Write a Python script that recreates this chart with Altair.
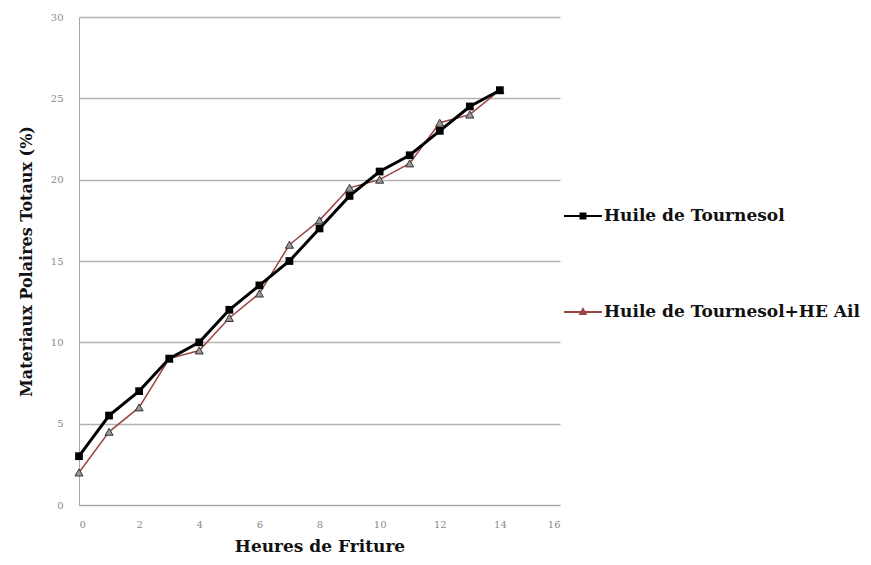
import altair as alt
import pandas as pd

hours = list(range(15))
tournesol = [3, 5.5, 7, 9, 10, 12, 13.5, 15, 17, 19, 20.5, 21.5, 23, 24.5, 25.5]
tournesol_ail = [2, 4.5, 6, 9, 9.5, 11.5, 13, 16, 17.5, 19.5, 20, 21, 23.5, 24, 25.5]
series_names = ["Huile de Tournesol", "Huile de Tournesol+HE Ail"]

rows = []
for h, a, b in zip(hours, tournesol, tournesol_ail):
    rows.append({"h": h, "v": a, "s": series_names[0]})
    rows.append({"h": h, "v": b, "s": series_names[1]})
df = pd.DataFrame(rows)

FONT = "DejaVu Serif"
x = alt.X("h:Q", title="Heures de Friture",
          scale=alt.Scale(domain=[0, 16], nice=False),
          axis=alt.Axis(values=list(range(0, 17, 2)), grid=False, ticks=False,
                        domainColor="#a6a6a6", labelColor="#8a8a8a", labelFontSize=10,
                        labelPadding=14, titleFontSize=17, titleFontWeight="bold",
                        titleColor="#111", titlePadding=9))
y = alt.Y("v:Q", title="Materiaux Polaires Totaux (%)",
          scale=alt.Scale(domain=[0, 30], nice=False),
          axis=alt.Axis(values=list(range(0, 31, 5)), ticks=False, gridColor="#b3b3b3",
                        gridWidth=1.3, domainColor="#a6a6a6", labelColor="#8a8a8a",
                        labelFontSize=10, labelPadding=16, titleFontSize=16,
                        titleFontWeight="bold", titleColor="#111", titlePadding=16))

base = alt.Chart(df)

line1 = base.transform_filter(alt.datum.s == series_names[0]).mark_line(
    color="#000000", strokeWidth=3).encode(x=x, y=y)
line2 = base.transform_filter(alt.datum.s == series_names[1]).mark_line(
    color="#9a4545", strokeWidth=1.5).encode(x=x, y=y)
pts1 = base.transform_filter(alt.datum.s == series_names[0]).mark_point(
    shape="square", filled=True, color="#000000", size=60, opacity=1).encode(x=x, y=y)
pts2 = base.transform_filter(alt.datum.s == series_names[1]).mark_point(
    shape="triangle-up", filled=True, fill="#9a9a9a", stroke="#333333", strokeWidth=1,
    size=65, opacity=1).encode(x=x, y=y)

path_sq = "M-1,0H1M-0.13,-0.13H0.13V0.13H-0.13Z"
path_tri = "M-1,0H1M0,-0.15L0.14,0.1H-0.14Z"

legend_layer = base.transform_filter("datum.h < 0").mark_point(
    filled=True, opacity=1, size=1444, strokeWidth=2).encode(
    x=x, y=y,
    shape=alt.Shape("s:N", scale=alt.Scale(domain=series_names, range=[path_sq, path_tri]),
                    legend=alt.Legend(title=None, orient="none", legendX=484, legendY=179,
                                      symbolSize=1444, rowPadding=68, labelOffset=1,
                                      labelFont=FONT, labelFontSize=17, labelColor="#111",
                                      labelFontWeight="bold", symbolStrokeWidth=2,
                                      labelLimit=400)),
    fill=alt.Fill("s:N", scale=alt.Scale(domain=series_names, range=["#000000", "#555555"]),
                  legend=None),
    stroke=alt.Stroke("s:N", scale=alt.Scale(domain=series_names, range=["#000000", "#9a4545"]),
                      legend=None),
)

chart = alt.layer(line2, line1, pts2, pts1, legend_layer).properties(
    width=481, height=488,
    autosize=alt.AutoSizeParams(type="none"),
    padding={"left": 71, "top": 9, "right": 303, "bottom": 56},
).configure_view(stroke=None).configure_axis(labelFont=FONT, titleFont=FONT)

chart.save("out.html", embed_options={"renderer": "svg", "actions": False})
